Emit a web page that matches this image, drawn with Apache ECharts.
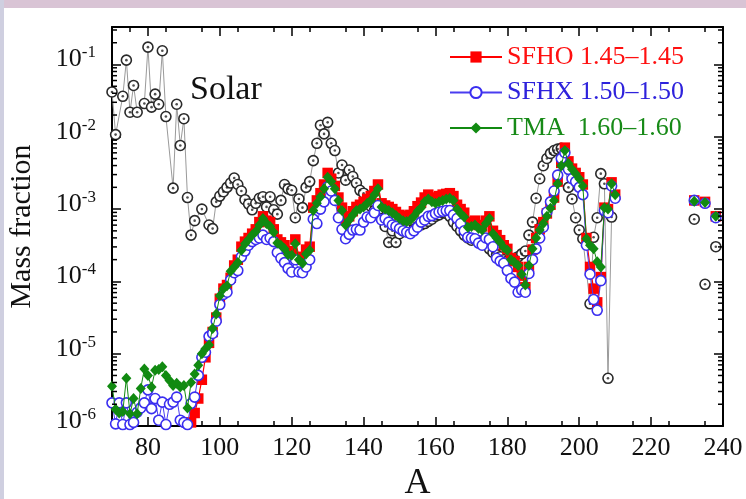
<!DOCTYPE html>
<html>
<head>
<meta charset="utf-8">
<script src="https://cdn.jsdelivr.net/npm/echarts@6/dist/echarts.min.js"></script>
<style>
  html, body { margin: 0; padding: 0; background: #ffffff; }
  #chart { width: 746px; height: 499px; }
</style>
</head>
<body>
<div id="chart"></div>
<script>
// Mass numbers A of the nucleosynthesis models (70..210 and the actinides)
const massModel = [
  70, 71, 72, 73, 74, 75, 76, 77, 78, 79,
  80, 81, 82, 83, 84, 85, 86, 87, 88, 89,
  90, 91, 92, 93, 94, 95, 96, 97, 98, 99,
  100, 101, 102, 103, 104, 105, 106, 107, 108, 109,
  110, 111, 112, 113, 114, 115, 116, 117, 118, 119,
  120, 121, 122, 123, 124, 125, 126, 127, 128, 129,
  130, 131, 132, 133, 134, 135, 136, 137, 138, 139,
  140, 141, 142, 143, 144, 145, 146, 147, 148, 149,
  150, 151, 152, 153, 154, 155, 156, 157, 158, 159,
  160, 161, 162, 163, 164, 165, 166, 167, 168, 169,
  170, 171, 172, 173, 174, 175, 176, 177, 178, 179,
  180, 181, 182, 183, 184, 185, 186, 187, 188, 189,
  190, 191, 192, 193, 194, 195, 196, 197, 198, 199,
  200, 201, 202, 203, 204, 205, 206, 207, 208, 209,
  210, 232, 235, 238
];

// log10 of the mass fraction, one entry per mass number above
const logSFHO = [
  null, null, null, null, null, null, null, null, null, null,
  null, null, null, null, null, null, null, null, null, null,
  null, null, -5.95, -5.82, -5.62, -5.36, -5.05, -4.85, -4.70, -4.50,
  -4.24, -4.10, -4.05, -3.95, -3.78, -3.70, -3.52, -3.45, -3.40, -3.34,
  -3.28, -3.18, -3.10, -3.16, -3.18, -3.28, -3.42, -3.46, -3.50, -3.58,
  -3.60, -3.42, -3.66, -3.70, -3.56, -3.52, -2.98, -2.88, -2.78, -2.66,
  -2.50, -2.58, -2.68, -2.84, -2.98, -3.18, -3.10, -3.03, -2.97, -2.94,
  -2.90, -2.86, -2.82, -2.75, -2.66, -2.92, -2.95, -2.97, -3.00, -3.04,
  -3.08, -3.10, -3.10, -3.08, -3.03, -2.96, -2.91, -2.84, -2.80, -2.84,
  -2.85, -2.82, -2.80, -2.79, -2.78, -2.82, -2.94, -3.00, -3.05, -3.18,
  -3.18, -3.16, -3.22, -3.24, -3.16, -3.10, -3.30, -3.36, -3.43, -3.50,
  -3.55, -3.68, -3.72, -3.80, -3.92, -4.08, -3.80, -3.56, -3.40, -3.28,
  -3.18, -3.06, -2.94, -2.84, -2.62, -2.36, -2.15, -2.34, -2.44, -2.50,
  -2.56, -2.66, -3.40, -3.80, -4.10, -4.29, -3.94, -2.98, -3.00, -2.63,
  -2.80, -2.88, -2.90, -3.10
];

const logSFHX = [
  -5.68, -5.97, -5.68, -5.98, -5.68, -5.98, -5.95, -5.81, -5.75, -5.68,
  -5.50, -5.76, -5.62, -5.92, -5.67, -5.98, -5.70, -5.67, -5.60, -5.92,
  -5.95, -5.98, -5.69, -5.60, -5.30, -5.05, -4.98, -4.76, -4.72, -4.55,
  -4.32, -4.18, -4.15, -3.98, -3.88, -3.85, -3.66, -3.58, -3.50, -3.45,
  -3.42, -3.40, -3.36, -3.42, -3.40, -3.45, -3.60, -3.68, -3.74, -3.82,
  -3.87, -3.70, -3.87, -3.88, -3.80, -3.70, -3.14, -3.20, -3.00, -2.90,
  -2.69, -2.75, -2.88, -3.12, -3.28, -3.41, -3.35, -3.29, -3.28, -3.29,
  -3.18, -3.11, -3.12, -3.05, -2.95, -3.15, -3.13, -3.18, -3.22, -3.24,
  -3.27, -3.30, -3.32, -3.34, -3.30, -3.25, -3.18, -3.15, -3.10, -3.09,
  -3.06, -3.04, -3.03, -3.02, -3.02, -3.08, -3.13, -3.20, -3.30, -3.39,
  -3.40, -3.41, -3.47, -3.50, -3.40, -3.42, -3.52, -3.68, -3.72, -3.75,
  -3.85, -3.96, -4.01, -4.15, -4.12, -4.15, -3.89, -3.70, -3.55, -3.40,
  -3.25, -3.04, -2.90, -2.75, -2.53, -2.30, -2.22, -2.45, -2.58, -2.62,
  -2.70, -2.80, -3.50, -3.90, -4.25, -4.40, -3.99, -3.02, -3.05, -2.68,
  -2.85, -2.88, -2.92, -3.12
];

const logTMA = [
  -5.45, -5.77, -5.82, -5.80, -5.34, -5.83, -5.62, -5.83, -5.48, -5.21,
  -5.30, -5.46, -5.23, -5.22, -5.18, -5.30, -5.37, -5.44, -5.41, -5.46,
  -5.44, -5.75, -5.40, -5.28, -5.16, -5.00, -4.93, -4.88, -4.65, -4.45,
  -4.20, -4.10, -4.06, -3.86, -3.80, -3.74, -3.57, -3.48, -3.42, -3.36,
  -3.31, -3.22, -3.13, -3.20, -3.24, -3.32, -3.47, -3.50, -3.55, -3.63,
  -3.64, -3.48, -3.70, -3.75, -3.62, -3.57, -3.02, -2.92, -2.83, -2.72,
  -2.56, -2.62, -2.72, -2.88, -3.02, -3.22, -3.15, -3.08, -3.02, -3.00,
  -2.97, -2.92, -2.88, -2.80, -2.72, -2.97, -3.00, -3.02, -3.05, -3.09,
  -3.13, -3.16, -3.17, -3.15, -3.10, -3.03, -2.98, -2.90, -2.86, -2.90,
  -2.92, -2.90, -2.88, -2.86, -2.85, -2.88, -3.00, -3.06, -3.11, -3.25,
  -3.24, -3.22, -3.27, -3.29, -3.20, -3.13, -3.34, -3.40, -3.46, -3.53,
  -3.57, -3.70, -3.74, -3.78, -3.90, -4.05, -3.78, -3.55, -3.40, -3.29,
  -3.20, -3.10, -2.99, -2.88, -2.65, -2.40, -2.19, -2.37, -2.45, -2.51,
  -2.58, -2.68, -3.41, -3.50, -3.55, -3.73, -3.80, -2.98, -3.00, -2.65,
  -2.80, -2.89, -2.91, -3.10
];

// Solar r-process abundances
const massSolar = [
  70, 71, 73, 74, 75, 76, 77, 79, 80, 81, 82, 83, 84, 85, 87, 88, 89, 90, 91, 92, 93, 95, 97, 98,
  99, 100, 101, 102, 103, 104, 105, 106, 107, 108, 109,
  110, 111, 112, 113, 114, 115, 116, 117, 118, 119,
  120, 121, 122, 123, 124, 125, 126, 127, 128, 129,
  130, 131, 132, 133, 134, 135, 136, 137, 138, 139,
  140, 141, 142, 143, 144, 145, 146, 147, 148, 149,
  150, 151, 152, 153, 154, 155, 156, 157, 158, 159,
  160, 161, 162, 163, 164, 165, 166, 167, 168, 169,
  170, 171, 172, 173, 174, 175, 176, 177, 178, 179,
  180, 181, 182, 183, 184, 185, 186, 187, 188, 189,
  190, 191, 192, 193, 194, 195, 196, 197, 198, 199,
  200, 201, 203, 204, 205, 206, 207, 208, 209,
  232, 235, 238
];

const logSolar = [
  -1.38, -1.97, -1.44, -0.94, -1.66, -1.29, -1.66, -1.54, -0.76, -1.59, -1.41, -1.55, -0.81, -1.72,
  -2.71, -1.55, -2.12, -1.75, -2.84, -3.36, -3.16, -3.00, -3.22, -3.27,
  -2.90, -2.82, -2.76, -2.70, -2.64, -2.57, -2.66, -2.75, -2.87, -2.93, -3.01,
  -2.92, -2.85, -2.83, -2.97, -2.83, -3.01, -3.07, -2.88, -2.66, -2.72,
  -2.74, -3.12, -2.86, -2.98, -2.70, -2.62, -2.33, -2.09, -1.84, -1.96,
  -1.80, -2.09, -2.19, -2.50, -2.39, -2.60, -2.46, -2.55, -2.64, -2.74,
  -2.78, -2.88, -2.96, -3.02, -3.06, -3.13, -3.24, -3.46, -3.30, -3.46,
  -3.34, -3.30, -3.28, -3.33, -3.28, -3.24, -3.22, -3.20, -3.17, -3.14,
  -3.10, -3.08, -3.05, -3.06, -3.10, -3.18, -3.24, -3.30, -3.36, -3.40,
  -3.43, -3.42, -3.44, -3.46, -3.48, -3.55, -3.60, -3.63, -3.66, -3.70,
  -3.72, -3.70, -3.68, -3.66, -3.62, -3.58, -3.36, -3.18, -2.85, -2.58,
  -2.40, -2.30, -2.23, -2.19, -2.17, -2.16, -2.39, -2.70, -2.86, -3.12,
  -3.29, -3.41, -4.31, -3.39, -3.12, -2.51, -2.65, -5.34, -3.11,
  -3.14, -4.04, -3.52
];

// Axis settings
const xTicks = [80, 100, 120, 140, 160, 180, 200, 220, 240];
const xRange = [70, 240];
const yRange = [1e-6, 0.33];

const serif = "'Liberation Serif', 'DejaVu Serif', serif";

// [A, mass fraction] pairs; the line is broken across wide gaps in A
function toPairs(mass, logs) {
  const out = [];
  for (let i = 0; i < mass.length; i++) {
    if (i > 0 && mass[i] - mass[i - 1] >= 3) out.push([(mass[i] + mass[i - 1]) / 2, null]);
    out.push([mass[i], logs[i] === null ? null : Math.pow(10, logs[i])]);
  }
  return out;
}

// minor ticks of the logarithmic axis at 2..9 x 10^n
const logMinor = [];
for (let e = -6; e <= -1; e++) {
  for (let k = 2; k <= 9; k++) {
    const v = k * Math.pow(10, e);
    if (v < yRange[1]) logMinor.push([xRange[0], v]);
  }
}

const chart = echarts.init(document.getElementById('chart'), null, { renderer: 'canvas' });

const axisLineStyle = { color: '#000', width: 2 };
const tickLineStyle = { color: '#000', width: 1.5 };

function xAxisCfg(pos, labels) {
  return {
    type: 'value', position: pos, min: xRange[0], max: xRange[1], interval: 20,
    gridIndex: 0,
    axisLine: { show: true, onZero: false, lineStyle: axisLineStyle },
    axisTick: { show: true, inside: true, length: 9, lineStyle: tickLineStyle,
      customValues: xTicks },
    minorTick: { show: true, splitNumber: 4, length: 5, lineStyle: tickLineStyle },
    axisLabel: {
      show: labels, margin: 9, fontFamily: serif, fontSize: 26, color: '#111',
      customValues: xTicks
    },
    splitLine: { show: false },
    name: labels ? 'A' : '', nameLocation: 'middle', nameGap: 37,
    nameTextStyle: { fontFamily: serif, fontSize: 36, color: '#111' }
  };
}

function yAxisCfg(pos, labels) {
  return {
    type: 'log', logBase: 10, position: pos, min: yRange[0], max: yRange[1],
    gridIndex: 0,
    axisLine: { show: true, onZero: false, lineStyle: axisLineStyle },
    axisTick: { show: true, inside: true, length: 9, lineStyle: tickLineStyle },
    axisLabel: {
      show: labels, margin: 16, padding: [0, 0, 12, 0],
      formatter: function (v) {
        const e = Math.round(Math.log10(v));
        if (Math.abs(v / Math.pow(10, e) - 1) > 1e-6) return '';
        return '{b|10}{s|' + e + '}';
      },
      rich: {
        b: { fontFamily: serif, fontSize: 26, color: '#111', lineHeight: 28, verticalAlign: 'bottom' },
        s: { fontFamily: serif, fontSize: 17, color: '#111', lineHeight: 17, verticalAlign: 'top' }
      }
    },
    splitLine: { show: false },
    name: labels ? 'Mass fraction' : '', nameLocation: 'middle', nameGap: 75,
    nameTextStyle: { fontFamily: serif, fontSize: 30, color: '#111' }
  };
}

const option = {
  backgroundColor: '#ffffff',
  animation: false,
  grid: { left: 112, right: 23, top: 27, bottom: 73, containLabel: false, outerBoundsMode: 'none' },
  xAxis: [xAxisCfg('bottom', true), xAxisCfg('top', false)],
  yAxis: [yAxisCfg('left', true), yAxisCfg('right', false)],
  legend: {
    orient: 'vertical', left: 444, top: 39,
    itemWidth: 52, itemHeight: 14, itemGap: 9.5,
    textStyle: { fontFamily: serif, fontSize: 26, lineHeight: 26 },
    data: [
      { name: 'SFHO 1.45\u20131.45', textStyle: { color: '#ff1010' } },
      { name: 'SFHX 1.50\u20131.50', textStyle: { color: '#2e22dc' } },
      { name: 'TMA  1.60\u20131.60', textStyle: { color: '#178a17' } }
    ],
    selectedMode: false
  },
  graphic: [
    { type: 'rect', left: 0, top: 0, shape: { width: 746, height: 8 }, style: { fill: '#d9c4d5' }, silent: true },
    { type: 'rect', left: 0, top: 0, shape: { width: 4, height: 499 }, style: { fill: '#cfcfe0' }, silent: true },
    {
      type: 'text', left: 190, top: 73,
      style: { text: 'Solar', fontFamily: serif, fontSize: 34, fill: '#111' }
    }
  ],
  series: [
    {
      name: 'Solar', type: 'line', data: toPairs(massSolar, logSolar),
      symbol: 'circle', symbolSize: 10, z: 2,
      lineStyle: { color: '#9a9a9a', width: 1 },
      itemStyle: { color: '#ffffff', borderColor: '#2a2a2a', borderWidth: 1.6 }
    },
    {
      name: 'Solar centre', type: 'scatter', data: toPairs(massSolar, logSolar),
      symbol: 'circle', symbolSize: 2.6, z: 3,
      itemStyle: { color: '#222' }
    },
    {
      name: 'SFHO 1.45\u20131.45', type: 'line', data: toPairs(massModel, logSFHO),
      symbol: 'rect', symbolSize: 10.5, z: 4,
      lineStyle: { color: '#ff0000', width: 1.2 },
      itemStyle: { color: '#ff0000' }
    },
    {
      name: 'SFHX 1.50\u20131.50', type: 'line', data: toPairs(massModel, logSFHX),
      symbol: 'circle', symbolSize: 10, z: 5,
      lineStyle: { color: '#4a3cf0', width: 1 },
      itemStyle: { color: '#ffffff', borderColor: '#3a2ef0', borderWidth: 1.6 }
    },
    {
      name: 'TMA  1.60\u20131.60', type: 'line', data: toPairs(massModel, logTMA),
      symbol: 'diamond', symbolSize: [10, 11], z: 6,
      lineStyle: { color: '#118a11', width: 1 },
      itemStyle: { color: '#118a11' }
    },
    {
      // minor ticks of the log axis, drawn inward on the left and right frame
      name: 'logMinorTicks', type: 'custom', data: logMinor, z: 10, silent: true,
      clip: false, legendHoverLink: false,
      renderItem: function (params, api) {
        const cs = params.coordSys;
        const y = api.coord([xRange[0], api.value(1)])[1];
        return {
          type: 'group',
          children: [
            { type: 'line', shape: { x1: cs.x, y1: y, x2: cs.x + 5, y2: y }, style: { stroke: '#000', lineWidth: 1.5 } },
            { type: 'line', shape: { x1: cs.x + cs.width - 5, y1: y, x2: cs.x + cs.width, y2: y }, style: { stroke: '#000', lineWidth: 1.5 } }
          ]
        };
      }
    }
  ]
};

chart.setOption(option);
</script>
</body>
</html>
